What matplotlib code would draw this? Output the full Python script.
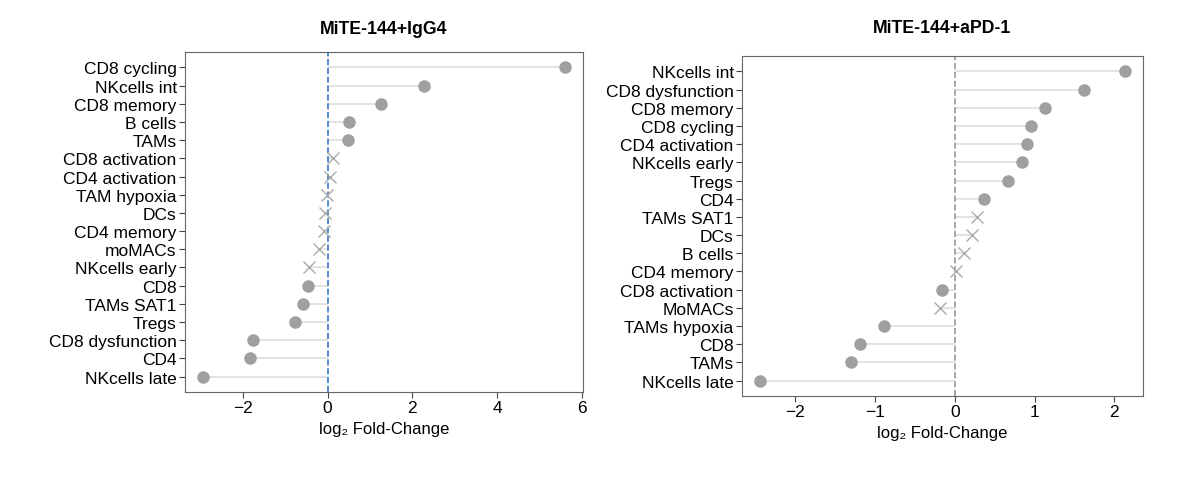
import matplotlib
matplotlib.use("Agg")
import matplotlib.pyplot as plt
import numpy as np

plt.rcParams['font.family'] = ['Liberation Sans', 'DejaVu Sans']

# left panel: MiTE-144+IgG4 (top to bottom)
igg4_cells = ['CD8 cycling', 'NKcells int', 'CD8 memory', 'B cells', 'TAMs',
              'CD8 activation', 'CD4 activation', 'TAM hypoxia', 'DCs', 'CD4 memory',
              'moMACs', 'NKcells early', 'CD8', 'TAMs SAT1', 'Tregs',
              'CD8 dysfunction', 'CD4', 'NKcells late']
igg4_lfc = [5.60, 2.27, 1.27, 0.50, 0.49, 0.13, 0.06, -0.02, -0.06, -0.08,
            -0.21, -0.45, -0.47, -0.59, -0.78, -1.77, -1.83, -2.94]
igg4_sig = [1, 1, 1, 1, 1, 0, 0, 0, 0, 0, 0, 0, 1, 1, 1, 1, 1, 1]

# right panel: MiTE-144+aPD-1 (top to bottom)
pd1_cells = ['NKcells int', 'CD8 dysfunction', 'CD8 memory', 'CD8 cycling',
             'CD4 activation', 'NKcells early', 'Tregs', 'CD4', 'TAMs SAT1', 'DCs',
             'B cells', 'CD4 memory', 'CD8 activation', 'MoMACs', 'TAMs hypoxia',
             'CD8', 'TAMs', 'NKcells late']
pd1_lfc = [2.13, 1.62, 1.13, 0.95, 0.90, 0.84, 0.67, 0.36, 0.28, 0.22,
           0.12, 0.01, -0.16, -0.19, -0.89, -1.19, -1.30, -2.44]
pd1_sig = [1, 1, 1, 1, 1, 1, 1, 1, 0, 0, 0, 0, 1, 0, 1, 1, 1, 1]


def lollipop(ax, cells, lfc, sig, title, zero_color, title_pad):
    n = len(cells)
    y = np.arange(n)[::-1]
    lfc = np.array(lfc)
    sig = np.array(sig, dtype=bool)
    ax.hlines(y, 0, lfc, color='#dedede', lw=1.2, zorder=1)
    ax.plot(lfc[sig], y[sig], 'o', color='#a0a0a0', ms=8, zorder=3)
    ax.plot(lfc[~sig], y[~sig], 'x', color='#ababab', ms=9, mew=1.0, zorder=3)
    ax.axvline(0, color=zero_color, ls='--', lw=1.2, zorder=2)
    ax.set_yticks(y)
    ax.set_yticklabels(cells, fontsize=12.5)
    ax.tick_params(axis='x', labelsize=12.5)
    ax.tick_params(colors='#444444', labelcolor='black', length=4, pad=2)
    for s in ax.spines.values():
        s.set_color('#666666')
    ax.set_xlabel('log\u2082 Fold-Change', fontsize=12)
    ax.set_title(title, fontsize=12.7, fontweight='bold', pad=title_pad)


fig = plt.figure(figsize=(11.99, 4.89), dpi=100)
ax1 = fig.add_axes([185 / 1199, 1 - 393 / 489, 398 / 1199, 340 / 489])
ax2 = fig.add_axes([742 / 1199, 1 - 397 / 489, 401 / 1199, 340 / 489])

lollipop(ax1, igg4_cells, igg4_lfc, igg4_sig, 'MiTE-144+IgG4', '#3a78c0', 14)
lollipop(ax2, pd1_cells, pd1_lfc, pd1_sig, 'MiTE-144+aPD-1', '#9a9a9a', 17)

fig.savefig('out.png', dpi=100)
